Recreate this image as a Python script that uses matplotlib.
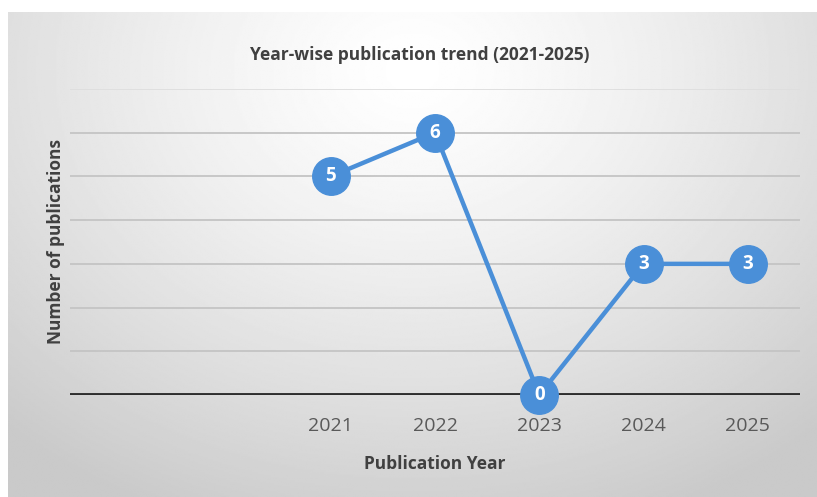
import matplotlib.pyplot as plt
import numpy as np

# data
categories = ["", "", "2021", "2022", "2023", "2024", "2025"]
years = ["2021", "2022", "2023", "2024", "2025"]
counts = [5, 6, 0, 3, 3]

blue = "#4a8fd8"
font = ["Open Sans", "DejaVu Sans"]

fig = plt.figure(figsize=(8.17, 4.97), dpi=100)

# background panel with radial gradient
bg = fig.add_axes([8 / 817, 0, 1 - 8 / 817, (497 - 12) / 497])
bg.set_axis_off()
yy, xx = np.mgrid[0:1:300j, 0:1:500j]
r = np.sqrt(((xx - 0.5) / 0.75) ** 2 + ((yy - 0.12) / 1.0) ** 2)
shade = 1.0 - 0.21 * np.clip(r, 0, 1) ** 1.3
bg.imshow(shade, cmap="gray", vmin=0, vmax=1, aspect="auto",
          extent=[0, 1, 1, 0], interpolation="bilinear")
bg.set_xlim(0, 1)
bg.set_ylim(1, 0)

ax = fig.add_axes([70 / 817, (497 - 395) / 497, 730 / 817, 306 / 497])
ax.patch.set_alpha(0)
ax.set_xlim(-0.5, len(categories) - 0.5)
ax.set_ylim(0, 7)

for y in range(1, 8):
    ax.axhline(y, color="#c4c4c4" if y < 7 else "#dedede", lw=1.3, zorder=1)
ax.axhline(0, color="#2e2e2e", lw=2.8, zorder=2)

xs = [categories.index(y) for y in years]
ax.plot(xs, counts, color=blue, lw=3.2, zorder=3, clip_on=False)
ax.plot(xs, counts, "o", ms=27, color=blue, mec=blue, zorder=4, clip_on=False)
for x, v in zip(xs, counts):
    ax.text(x, v, str(v), ha="center", va="center", color="white",
            fontsize=13.5, fontweight="bold", family=font, zorder=5)

for s in ax.spines.values():
    s.set_visible(False)
ax.set_yticks([])
ax.set_xticks(range(len(categories)))
ax.set_xticklabels(categories, fontsize=14, color="#595959", family=font)
ax.tick_params(axis="x", length=0, pad=16)

ax.set_xlabel("Publication Year", fontsize=12.5, fontweight="bold",
              color="#404040", family=font, labelpad=14)
fig.text(56 / 817, 1 - 242 / 497, "Number of publications", rotation=90,
         ha="center", va="center", fontsize=12.5, fontweight="bold",
         color="#404040", family=font)
fig.text(420 / 817, 1 - 55 / 497, "Year-wise publication trend (2021-2025)",
         ha="center", va="center", fontsize=12.5, fontweight="bold",
         color="#404040", family=font)

fig.savefig("out.png", dpi=100)
